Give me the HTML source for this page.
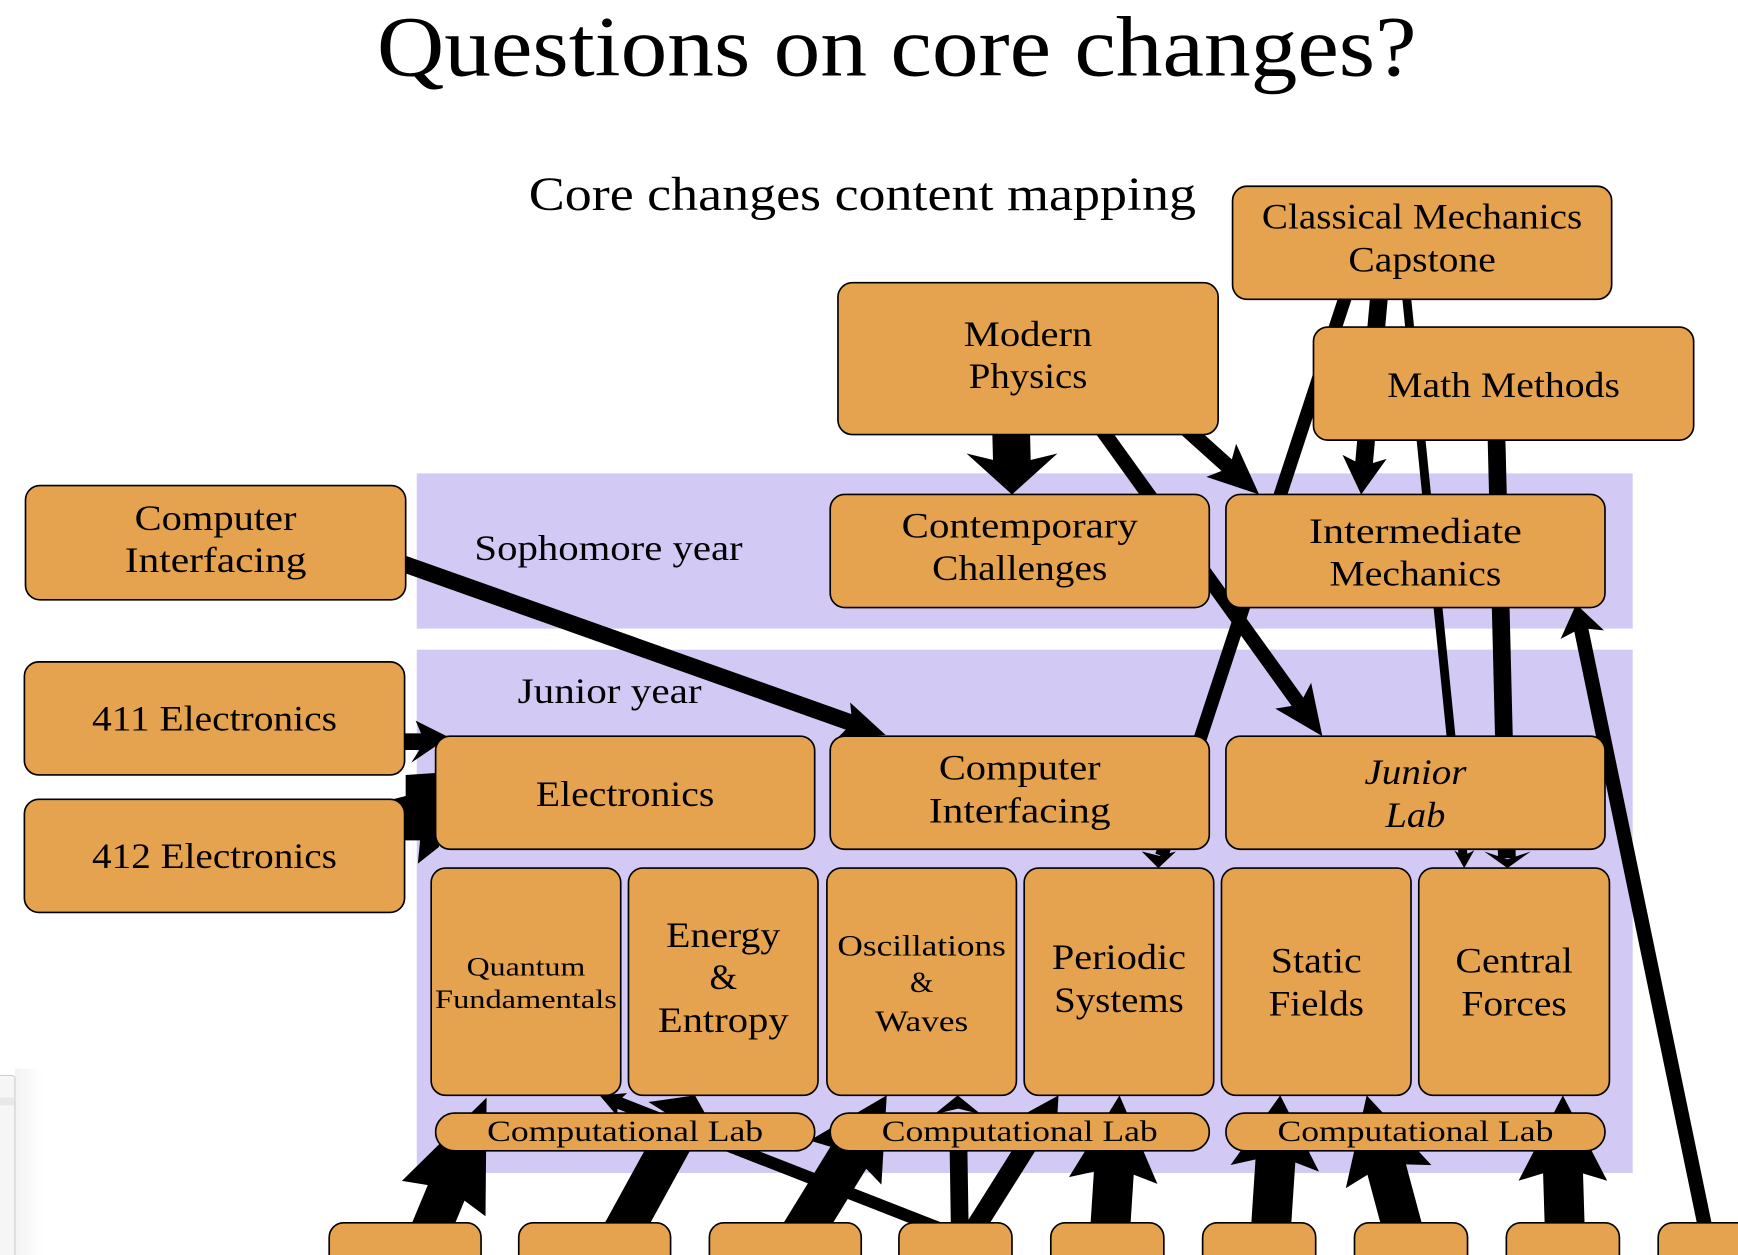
<!DOCTYPE html>
<html>
<head>
<meta charset="utf-8">
<style>
html,body{margin:0;padding:0;background:#fff;}
svg{display:block;}
text{font-family:"Liberation Serif","DejaVu Serif",serif;fill:#000;}
.n{fill:#e5a24f;stroke:#000;stroke-width:1.5;}
.e{stroke:#000;fill:none;}
.a{fill:#000;stroke:none;}
</style>
</head>
<body>
<svg width="1738" height="1255" viewBox="0 0 1568 1132" preserveAspectRatio="none" xmlns="http://www.w3.org/2000/svg">
<defs>
<linearGradient id="sh" x1="0" y1="0" x2="1" y2="0">
<stop offset="0" stop-color="#000" stop-opacity="0.05"/>
<stop offset="1" stop-color="#000" stop-opacity="0"/>
</linearGradient>
</defs>
<rect x="0" y="0" width="1568" height="1132" fill="#fff"/>

<!-- Title -->
<text x="809" y="68" font-size="77" text-anchor="middle" textLength="938" lengthAdjust="spacingAndGlyphs">Questions on core changes?</text>
<text x="477" y="189.5" font-size="43" textLength="602" lengthAdjust="spacingAndGlyphs">Core changes content mapping</text>

<!-- bands -->
<rect x="376" y="427" width="1097" height="140" fill="#d2caf5"/>
<rect x="376" y="586" width="1097" height="472" fill="#d2caf5"/>

<!-- bottom-left window panel -->
<rect x="13.5" y="964" width="26" height="168" fill="url(#sh)"/>
<rect x="-6" y="970" width="19.5" height="170" rx="3" fill="#f6f6f6" stroke="#cfcfcf" stroke-width="1"/>
<rect x="-6" y="990" width="19" height="7" fill="#e8e8e8"/>

<!-- ===== EDGES ===== -->
<!-- MP -> CC -->
<line class="e" x1="912" y1="380" x2="913" y2="420" stroke-width="34"/>
<polygon class="a" points="913,446 954,409 913,419 872,409"/>
<!-- MP -> JL -->
<line class="e" x1="990" y1="382" x2="1172.5" y2="635.6" stroke-width="13"/>
<polygon class="a" points="1193,664 1150.5,639.2 1172.5,635.6 1182.9,615.8"/>
<!-- MP -> IM -->
<line class="e" x1="1066" y1="383" x2="1109.3" y2="421.9" stroke-width="14"/>
<polygon class="a" points="1136,446 1088.4,430.1 1109.3,421.9 1115.2,400.3"/>
<!-- Capstone -> Periodic -->
<line class="e" x1="1217" y1="258" x2="1048" y2="772" stroke-width="12"/>
<polygon class="a" points="1045,783 1030,768 1046,772 1061,768"/>
<!-- Capstone -> IM (through MM) -->
<line class="e" x1="1245" y1="258" x2="1230.4" y2="420.1" stroke-width="16"/>
<polygon class="a" points="1228,446 1211.2,410.3 1230.4,420.1 1251,413.9"/>
<!-- Capstone -> CF thin -->
<line class="e" x1="1268" y1="258" x2="1320" y2="772" stroke-width="8"/>
<polygon class="a" points="1321,783 1312,767 1320,772 1330,767"/>
<!-- MM -> CF thick -->
<line class="e" x1="1350" y1="390" x2="1359.5" y2="774" stroke-width="16"/>
<polygon class="a" points="1360,783 1339,768 1360,775 1381,768"/>
<!-- Box9 -> IM -->
<line class="e" x1="1540" y1="1115" x2="1426.3" y2="566.6" stroke-width="13"/>
<polygon class="a" points="1422,545 1447.1,568.6 1426.3,566.6 1407.9,576.4"/>
<!-- CI left -> CI junior -->
<line class="e" x1="340" y1="500" x2="768.9" y2="652.3" stroke-width="15"/>
<polygon class="a" points="799,663 767,633.6 768.9,652.3 755.6,665.6"/>
<!-- 411 -> Electronics -->
<line class="e" x1="350" y1="669" x2="384" y2="669" stroke-width="15"/>
<polygon class="a" points="405,665 375,650 383,669 371,688"/>
<!-- 412 -> Electronics -->
<polygon class="a" points="366,699 396,697 396,764 377,779 379,758 350,758 350,722 366,718"/>

<!-- bottom edges -->
<line class="e" x1="385" y1="1118" x2="404.2" y2="1071.9" stroke-width="36"/>
<polygon class="a" points="439,990 438,1097.1 404.2,1071.9 362.6,1065.1"/>
<line class="e" x1="558" y1="1118" x2="614" y2="1016" stroke-width="36"/>
<polygon class="a" points="627,988 646,1022 614,1012 585,994"/>
<line class="e" x1="720" y1="1118" x2="768" y2="1040" stroke-width="38"/>
<polygon class="a" points="800,988 795.2,1068.5 768,1040 730.4,1028.7"/>
<line class="e" x1="858" y1="1112" x2="556.8" y2="994.2" stroke-width="11"/>
<polygon class="a" points="541,988 565.8,986 556.8,994.2 557.2,1007.2"/>
<line class="e" x1="866" y1="1115" x2="864.5" y2="1020" stroke-width="16"/>
<polygon class="a" points="864,988 885,1005 864.5,1000 843,1005"/>
<line class="e" x1="875" y1="1115" x2="937.9" y2="1015.1" stroke-width="18"/>
<polygon class="a" points="955,988 952.2,1033.6 937.9,1015.1 915,1010"/>
<line class="e" x1="1001" y1="1118" x2="1005.2" y2="1052.8" stroke-width="36"/>
<polygon class="a" points="1010,988 1044.2,1067.8 1005.2,1052.8 964.4,1061.8"/>
<line class="e" x1="1146" y1="1118" x2="1151" y2="1041.8" stroke-width="36"/>
<polygon class="a" points="1155,988 1190,1056.8 1151,1041.8 1110.2,1050.8"/>
<line class="e" x1="1268" y1="1118" x2="1249.7" y2="1049.8" stroke-width="36"/>
<polygon class="a" points="1233,988 1291.4,1050.9 1249.7,1049.8 1214.2,1071.7"/>
<line class="e" x1="1412" y1="1118" x2="1410" y2="1053" stroke-width="36"/>
<polygon class="a" points="1410,988 1450,1065 1410,1053 1370,1065"/>

<!-- ===== NODES ===== -->
<rect class="n" x="1112" y="168" width="342" height="102" rx="13"/>
<rect class="n" x="756" y="255" width="343" height="137" rx="13"/>
<rect class="n" x="1185" y="295" width="343" height="102" rx="13"/>
<rect class="n" x="23" y="438" width="343" height="103" rx="13"/>
<rect class="n" x="749" y="446" width="342" height="102" rx="13"/>
<rect class="n" x="1106" y="446" width="342" height="102" rx="13"/>
<rect class="n" x="22" y="597" width="343" height="102" rx="13"/>
<rect class="n" x="22" y="721" width="343" height="102" rx="13"/>
<rect class="n" x="393" y="664" width="342" height="102" rx="13"/>
<rect class="n" x="749" y="664" width="342" height="102" rx="13"/>
<rect class="n" x="1106" y="664" width="342" height="102" rx="13"/>
<rect class="n" x="389" y="783" width="171" height="205" rx="13"/>
<rect class="n" x="567" y="783" width="171" height="205" rx="13"/>
<rect class="n" x="746" y="783" width="171" height="205" rx="13"/>
<rect class="n" x="924" y="783" width="171" height="205" rx="13"/>
<rect class="n" x="1102" y="783" width="171" height="205" rx="13"/>
<rect class="n" x="1280" y="783" width="172" height="205" rx="13"/>
<rect class="n" x="393" y="1004" width="342" height="34" rx="17"/>
<rect class="n" x="749" y="1004" width="342" height="34" rx="17"/>
<rect class="n" x="1106" y="1004" width="342" height="34" rx="17"/>
<rect class="n" x="297" y="1103" width="137" height="60" rx="13"/>
<rect class="n" x="468" y="1103" width="137" height="60" rx="13"/>
<rect class="n" x="640" y="1103" width="137" height="60" rx="13"/>
<rect class="n" x="811" y="1103" width="102" height="60" rx="13"/>
<rect class="n" x="948" y="1103" width="102" height="60" rx="13"/>
<rect class="n" x="1085" y="1103" width="102" height="60" rx="13"/>
<rect class="n" x="1222" y="1103" width="102" height="60" rx="13"/>
<rect class="n" x="1359" y="1103" width="102" height="60" rx="13"/>
<rect class="n" x="1496" y="1103" width="120" height="60" rx="13"/>

<!-- ===== LABELS ===== -->
<g font-size="32" text-anchor="middle">
<text x="1283" y="206" textLength="289" lengthAdjust="spacingAndGlyphs">Classical Mechanics</text>
<text x="1283" y="245" textLength="133" lengthAdjust="spacingAndGlyphs">Capstone</text>
<text x="927.5" y="312" textLength="116" lengthAdjust="spacingAndGlyphs">Modern</text>
<text x="927.5" y="350" textLength="107" lengthAdjust="spacingAndGlyphs">Physics</text>
<text x="1356.5" y="358" textLength="210" lengthAdjust="spacingAndGlyphs">Math Methods</text>
<text x="194.5" y="478" textLength="146" lengthAdjust="spacingAndGlyphs">Computer</text>
<text x="194.5" y="516" textLength="164" lengthAdjust="spacingAndGlyphs">Interfacing</text>
<text x="920" y="485" textLength="213" lengthAdjust="spacingAndGlyphs">Contemporary</text>
<text x="920" y="523" textLength="158" lengthAdjust="spacingAndGlyphs">Challenges</text>
<text x="1277" y="490" textLength="192" lengthAdjust="spacingAndGlyphs">Intermediate</text>
<text x="1277" y="528" textLength="155" lengthAdjust="spacingAndGlyphs">Mechanics</text>
<text x="193.5" y="659" textLength="221" lengthAdjust="spacingAndGlyphs">411 Electronics</text>
<text x="193.5" y="783" textLength="221" lengthAdjust="spacingAndGlyphs">412 Electronics</text>
<text x="564" y="727" textLength="161" lengthAdjust="spacingAndGlyphs">Electronics</text>
<text x="920" y="703" textLength="146" lengthAdjust="spacingAndGlyphs">Computer</text>
<text x="920" y="742" textLength="164" lengthAdjust="spacingAndGlyphs">Interfacing</text>
<text x="1277" y="707" font-style="italic" textLength="92" lengthAdjust="spacingAndGlyphs">Junior</text>
<text x="1277" y="746" font-style="italic" textLength="54" lengthAdjust="spacingAndGlyphs">Lab</text>
<text x="652.5" y="854" textLength="103" lengthAdjust="spacingAndGlyphs">Energy</text>
<text x="652.5" y="892">&amp;</text>
<text x="652.5" y="931" textLength="118" lengthAdjust="spacingAndGlyphs">Entropy</text>
<text x="1009.5" y="874" textLength="121" lengthAdjust="spacingAndGlyphs">Periodic</text>
<text x="1009.5" y="913" textLength="117" lengthAdjust="spacingAndGlyphs">Systems</text>
<text x="1187.5" y="877" textLength="82" lengthAdjust="spacingAndGlyphs">Static</text>
<text x="1187.5" y="916" textLength="86" lengthAdjust="spacingAndGlyphs">Fields</text>
<text x="1366" y="877" textLength="106" lengthAdjust="spacingAndGlyphs">Central</text>
<text x="1366" y="916" textLength="95" lengthAdjust="spacingAndGlyphs">Forces</text>
</g>
<g font-size="24" text-anchor="middle">
<text x="474.5" y="880" textLength="107" lengthAdjust="spacingAndGlyphs">Quantum</text>
<text x="474.5" y="909" textLength="164" lengthAdjust="spacingAndGlyphs">Fundamentals</text>
</g>
<g font-size="27" text-anchor="middle">
<text x="831.5" y="862" textLength="152" lengthAdjust="spacingAndGlyphs">Oscillations</text>
<text x="831.5" y="895">&amp;</text>
<text x="831.5" y="930" textLength="84" lengthAdjust="spacingAndGlyphs">Waves</text>
<text x="564" y="1029" textLength="249" lengthAdjust="spacingAndGlyphs">Computational Lab</text>
<text x="920" y="1029" textLength="249" lengthAdjust="spacingAndGlyphs">Computational Lab</text>
<text x="1277" y="1029" textLength="249" lengthAdjust="spacingAndGlyphs">Computational Lab</text>
</g>
<g font-size="32">
<text x="428" y="505" textLength="242" lengthAdjust="spacingAndGlyphs">Sophomore year</text>
<text x="467" y="634" textLength="166" lengthAdjust="spacingAndGlyphs">Junior year</text>
</g>
</svg>
</body>
</html>
